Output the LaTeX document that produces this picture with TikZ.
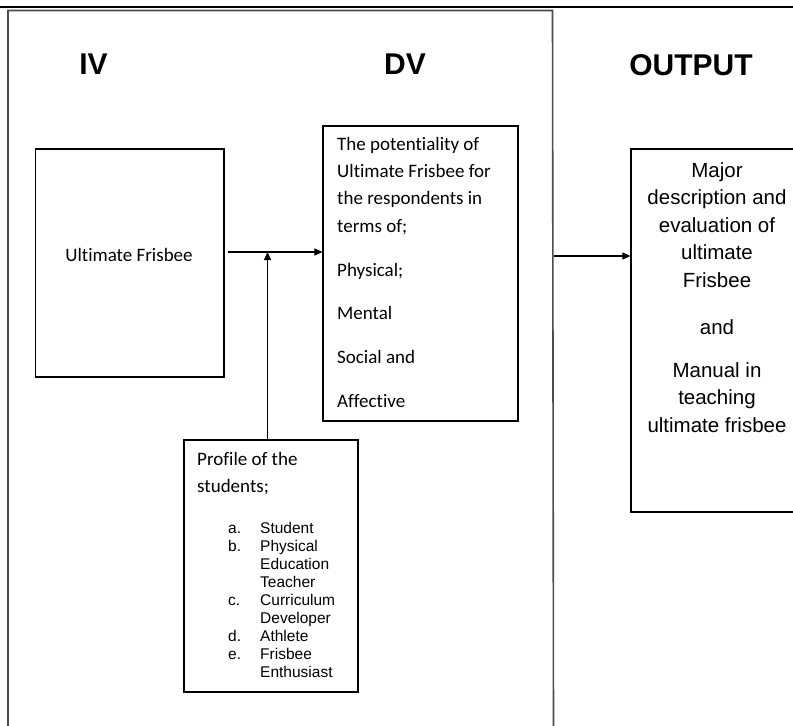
\documentclass[tikz,border=0pt]{standalone}
\usepackage{fontspec}
\setmainfont{Carlito}[Ligatures=NoCommon]
\newfontfamily\arialfont{Liberation Sans}
\usetikzlibrary{arrows.meta}
\begin{document}
\begin{tikzpicture}[x=1pt,y=-1pt,
  box/.style={draw=black, line width=1.1pt, inner sep=0pt, rectangle},
  frame/.style={draw=gray!60!black, line width=1.6pt},
  arr/.style={-{Triangle[length=8pt,width=7pt]}, line width=1.1pt},
  head/.style={font=\arialfont\bfseries\fontsize{30}{36}\selectfont},
  body/.style={font=\fontsize{19}{27.3}\selectfont, inner sep=0pt},
]
\useasboundingbox (0,0) rectangle (793,726);
\fill[white] (0,0) rectangle (793,726);

% frame
\coordinate (tl) at (0,7); \coordinate (tr) at (793,7);
\draw[line width=1.2pt] (tl) -- (tr);
\coordinate (c1) at (8,10.5); \coordinate (c2) at (552.5,10.5);
\coordinate (c1b) at (8,730); \coordinate (c2b) at (553.5,730);
\draw[frame] (c1b) -- (c1) -- (c2) -- (c2b);

% headings
\node[head] (iv) at (93.5,64.5) {IV};
\node[head] (dvh) at (405,64.5) {DV};
\node[head] (outh) at (691,65) {OUTPUT};

% IV box
\node[box, minimum width=188.5pt, minimum height=228pt] (uf) at (129.75,263) {};
\node[body] (uftext) at (129,255) {Ultimate Frisbee};

% DV box
\node[box, minimum width=195pt, minimum height=295pt] (dv) at (420.5,273.5) {};
\node[body, anchor=north west, align=left] (dvtext) at (337,137)
  {The potentiality of\\Ultimate Frisbee for\\the respondents in\\terms of;\\[16.5pt]Physical;\\[16.5pt]Mental\\[16.5pt]Social and\\[16.5pt]Affective};

% Output box
\node[box, minimum width=169pt, minimum height=363pt] (out) at (715.5,330.5) {};
\node[anchor=north, align=center, inner sep=0pt, font=\arialfont\fontsize{20.5}{27.5}\selectfont] (outtext) at (717,162)
  {Major\\description and\\evaluation of\\ultimate\\Frisbee\\[19.5pt]and\\[15.5pt]Manual in\\teaching\\ultimate frisbee};

% Profile box
\node[box, minimum width=174pt, minimum height=252pt] (prof) at (271,566) {};
\node[body, anchor=north west, align=left] (proftext) at (197,452) {Profile of the\\students;};
\node[anchor=north west, inner sep=0pt, font=\arialfont\fontsize{15.5}{18}\selectfont] (list) at (228,521)
  {\begin{tabular}{@{}p{32pt}@{}l@{}}
   a. & Student\\
   b. & Physical\\
      & Education\\
      & Teacher\\
   c. & Curriculum\\
      & Developer\\
   d. & Athlete\\
   e. & Frisbee\\
      & Enthusiast
   \end{tabular}};

% connectors
\coordinate (j) at (267.5,252);
\draw[arr] ([xshift=3pt]uf.east |- j) -- (dv.west |- j);
\draw[arr] (prof.north -| j) -- (j);
\coordinate (r) at (553.5,256);
\draw[arr] (r) -- (out.west |- r);
\end{tikzpicture}
\end{document}
